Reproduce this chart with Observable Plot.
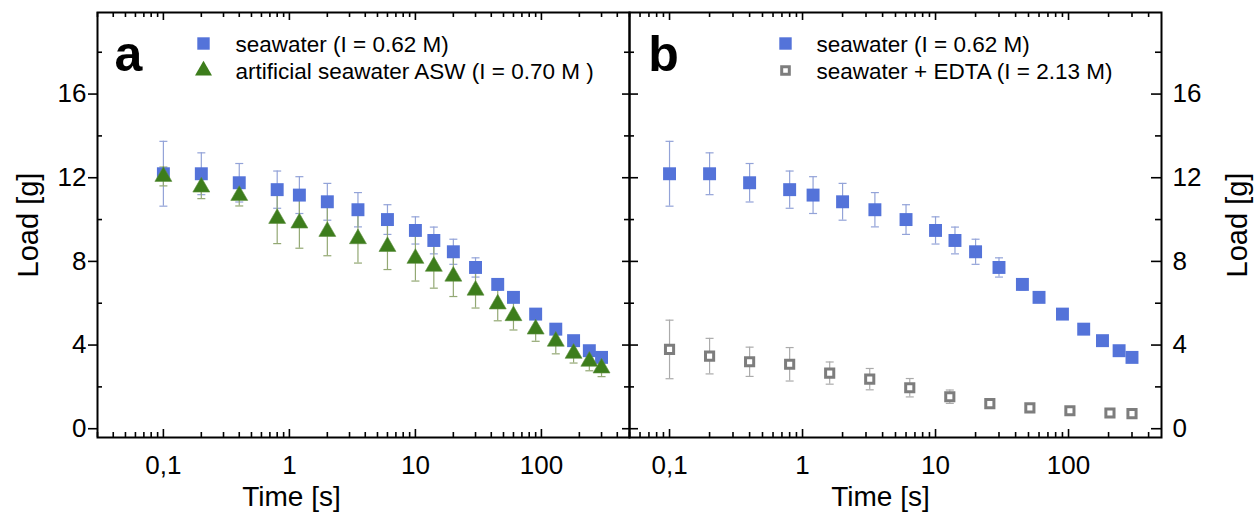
<!DOCTYPE html>
<html>
<head>
<meta charset="utf-8">
<script src="https://cdn.jsdelivr.net/npm/d3@7"></script>
<script src="https://cdn.jsdelivr.net/npm/@observablehq/plot@0.6"></script>
<style>
  html, body { margin: 0; padding: 0; background: #fff; }
  #wrap { position: relative; width: 1258px; height: 517px; overflow: hidden; font-family: "Liberation Sans", Arial, sans-serif; }
  #wrap > div { position: absolute; top: 0; }
</style>
</head>
<body>
<div id="wrap"><div id="pa"></div><div id="pb"></div></div>
<script>
// ---------- data ----------
const timeSW = [0.1, 0.2, 0.4, 0.8, 1.2, 2, 3.5, 6, 10, 14, 20, 30, 45, 60, 90, 130, 180, 240, 300];
const loadSW = [12.19, 12.19, 11.76, 11.43, 11.17, 10.85, 10.47, 10.0, 9.48, 9.0, 8.46, 7.71, 6.9, 6.28, 5.48, 4.76, 4.21, 3.73, 3.41];
const errSW  = [1.55, 1.0, 0.92, 0.89, 0.88, 0.88, 0.82, 0.71, 0.65, 0.64, 0.6, 0.46, 0.27, 0.15, 0.1, 0.06, 0.06, 0.05, 0.05];

const timeASW = [0.1, 0.2, 0.4, 0.8, 1.2, 2, 3.5, 6, 10, 14, 20, 30, 45, 60, 90, 130, 180, 240, 300];
const loadASW = [12.06, 11.55, 11.15, 10.05, 9.83, 9.43, 9.08, 8.71, 8.14, 7.76, 7.29, 6.62, 5.96, 5.4, 4.76, 4.18, 3.6, 3.22, 2.9];
const errASW  = [0.45, 0.55, 0.5, 1.2, 1.2, 1.16, 1.16, 1.1, 1.08, 1.04, 0.97, 0.85, 0.8, 0.68, 0.58, 0.6, 0.46, 0.45, 0.41];

const timeEDTA = [0.1, 0.2, 0.4, 0.8, 1.6, 3.2, 6.4, 12.8, 25.6, 51.2, 102.4, 204.8, 300];
const loadEDTA = [3.79, 3.47, 3.2, 3.08, 2.66, 2.37, 1.96, 1.53, 1.2, 1.0, 0.86, 0.75, 0.72];
const errEDTA  = [1.4, 0.85, 0.7, 0.8, 0.53, 0.51, 0.44, 0.32, 0.1, 0.05, 0.05, 0.05, 0.05];

const xMajorTicks = [0.1, 1, 10, 100];
const xTickLabels = ["0,1", "1", "10", "100"];
const yMajorTicks = [0, 4, 8, 12, 16];
const yMinorTicks = [2, 6, 10, 14, 18];

const legendA = ["seawater (I = 0.62 M)", "artificial seawater ASW (I = 0.70 M )"];
const legendB = ["seawater (I = 0.62 M)", "seawater + EDTA (I = 2.13 M)"];
const panelLabels = ["a", "b"];
const xTitle = "Time [s]";
const yTitle = "Load [g]";

// ---------- styling ----------
const BLUE = "#5473d9", BLUE_ERR = "#93a3d8";
const GREEN = "#3d7d1c", GREEN_ERR = "#93a873";
const GRAY = "#7d7d7d", GRAY_ERR = "#ababab";
const FONT = "Liberation Sans, Arial, sans-serif";
const H = 517, MT = 12, MB = 80, PW = 532;
const PH = H - MT - MB;
const yDomain = [-0.42, 19.9];

const minorDecades = (lo, hi) => {
  const out = [];
  for (let e = -2; e <= 2; e++) for (let m = 2; m <= 9; m++) {
    const v = +(m * 10 ** e).toPrecision(3);
    if (v >= lo && v < hi) out.push(v);
  }
  return out;
};

const capSymbol = { draw(ctx, size) { const w = Math.sqrt(size / Math.PI); ctx.moveTo(-w, 0); ctx.lineTo(w, 0); } };

function errorMarks(xs, ys, es, color) {
  const d = xs.map((x, i) => ({x, lo: ys[i] - es[i], hi: ys[i] + es[i]}));
  return [
    Plot.ruleX(d, {x: "x", y1: "lo", y2: "hi", stroke: color, strokeWidth: 1.2}),
    Plot.dot(d, {x: "x", y: "lo", symbol: capSymbol, r: 4, stroke: color, strokeWidth: 1.2, fill: "none"}),
    Plot.dot(d, {x: "x", y: "hi", symbol: capSymbol, r: 4, stroke: color, strokeWidth: 1.2, fill: "none"})
  ];
}

function tickMarks(xMinor, leftMaj, leftMin, leftOut, rightMaj, rightMin) {
  const st = {stroke: "black", strokeWidth: 1.6};
  return [
    Plot.ruleX(xMajorTicks, {x: d => d, insetTop: PH - 8, ...st}),
    Plot.ruleX(xMinor, {x: d => d, insetTop: PH - 5, ...st}),
    Plot.ruleX(xMajorTicks, {x: d => d, insetBottom: PH - 8, ...st}),
    Plot.ruleX(xMinor, {x: d => d, insetBottom: PH - 5, ...st}),
    leftOut
      ? Plot.ruleY(yMajorTicks, {y: d => d, insetRight: PW - leftMaj, dx: -leftMaj, ...st})
      : Plot.ruleY(yMajorTicks, {y: d => d, insetRight: PW - leftMaj, ...st}),
    Plot.ruleY(yMinorTicks, {y: d => d, insetRight: PW - leftMin, ...st}),
    Plot.ruleY(yMajorTicks, {y: d => d, insetLeft: PW - rightMaj, ...st}),
    Plot.ruleY(yMinorTicks, {y: d => d, insetLeft: PW - rightMin, ...st})
  ];
}

const T = {textAnchor: "middle", lineAnchor: "middle"};
const L = {textAnchor: "start", lineAnchor: "middle", fontSize: 22.5};

const common = {
  height: H, marginTop: MT, marginBottom: MB,
  style: {fontFamily: FONT, fontSize: "26px", color: "black", background: "none", overflow: "visible"}
};

// ---------- panel a ----------
const chartA = Plot.plot({
  ...common,
  width: 97 + PW + 11, marginLeft: 97, marginRight: 11,
  x: {type: "log", domain: [0.03, 500], ticks: xMajorTicks, tickFormat: d => xTickLabels[xMajorTicks.indexOf(d)], tickSize: 0, tickPadding: 18, label: null},
  y: {domain: yDomain, ticks: yMajorTicks, tickSize: 0, tickPadding: 11, label: null, axis: "left"},
  marks: [
    ...errorMarks(timeSW, loadSW, errSW, BLUE_ERR),
    ...errorMarks(timeASW, loadASW, errASW, GREEN_ERR),
    Plot.dot(timeSW.map((x, i) => ({x, y: loadSW[i]})), {x: "x", y: "y", symbol: "square", r: 7.3, fill: BLUE}),
    Plot.dot(timeASW.map((x, i) => ({x, y: loadASW[i]})), {x: "x", y: "y", symbol: "triangle", r: 6.3, fill: GREEN, stroke: "#5c8f3e", strokeWidth: 0.6}),
    ...tickMarks(minorDecades(0.03, 500), 9, 5, true, 7, 5),
    Plot.frame({stroke: "black", strokeWidth: 2}),
    Plot.text([panelLabels[0]], {frameAnchor: "top-left", dx: 31, dy: 42, fontSize: 50, fontWeight: "bold", ...T}),
    Plot.dot([legendA[0]], {frameAnchor: "top-left", dx: 106, dy: 31, symbol: "square", r: 7, fill: BLUE}),
    Plot.dot([legendA[1]], {frameAnchor: "top-left", dx: 106, dy: 58, symbol: "triangle", r: 6.3, fill: GREEN}),
    Plot.text([legendA[0]], {frameAnchor: "top-left", dx: 138, dy: 32, ...L}),
    Plot.text([legendA[1]], {frameAnchor: "top-left", dx: 138, dy: 59, ...L}),
    Plot.text([xTitle], {frameAnchor: "bottom-left", dx: 194, dy: 60, fontSize: 28, ...T}),
    Plot.text([yTitle], {frameAnchor: "left", dx: -69, rotate: -90, fontSize: 29, ...T})
  ]
});

// ---------- panel b ----------
const chartB = Plot.plot({
  ...common,
  width: 9 + PW + 97, marginLeft: 9, marginRight: 97,
  x: {type: "log", domain: [0.05, 500], ticks: xMajorTicks, tickFormat: d => xTickLabels[xMajorTicks.indexOf(d)], tickSize: 0, tickPadding: 18, label: null},
  y: {domain: yDomain, ticks: yMajorTicks, tickSize: 0, tickPadding: 11, label: null, axis: "right"},
  marks: [
    ...errorMarks(timeSW, loadSW, errSW, BLUE_ERR),
    ...errorMarks(timeEDTA, loadEDTA, errEDTA, GRAY_ERR),
    Plot.dot(timeSW.map((x, i) => ({x, y: loadSW[i]})), {x: "x", y: "y", symbol: "square", r: 7.3, fill: BLUE}),
    Plot.dot(timeEDTA.map((x, i) => ({x, y: loadEDTA[i]})), {x: "x", y: "y", symbol: "square", r: 4.6, fill: "white", stroke: GRAY, strokeWidth: 3}),
    ...tickMarks(minorDecades(0.05, 500), 9, 5, false, 10, 6),
    Plot.frame({stroke: "black", strokeWidth: 2}),
    Plot.text([panelLabels[1]], {frameAnchor: "top-left", dx: 34, dy: 42, fontSize: 50, fontWeight: "bold", ...T}),
    Plot.dot([legendB[0]], {frameAnchor: "top-left", dx: 156, dy: 31, symbol: "square", r: 7, fill: BLUE}),
    Plot.dot([legendB[1]], {frameAnchor: "top-left", dx: 156, dy: 58, symbol: "square", r: 4.3, fill: "white", stroke: GRAY, strokeWidth: 3}),
    Plot.text([legendB[0]], {frameAnchor: "top-left", dx: 187, dy: 32, ...L}),
    Plot.text([legendB[1]], {frameAnchor: "top-left", dx: 187, dy: 59, ...L}),
    Plot.text([xTitle], {frameAnchor: "bottom-left", dx: 251, dy: 60, fontSize: 28, ...T}),
    Plot.text([yTitle], {frameAnchor: "right", dx: 76, rotate: -90, fontSize: 29, ...T})
  ]
});

const pa = document.getElementById("pa");
const pb = document.getElementById("pb");
pa.style.left = "0px";
pb.style.left = (97 + PW - 9) + "px";
pa.appendChild(chartA);
pb.appendChild(chartB);
</script>
</body>
</html>
